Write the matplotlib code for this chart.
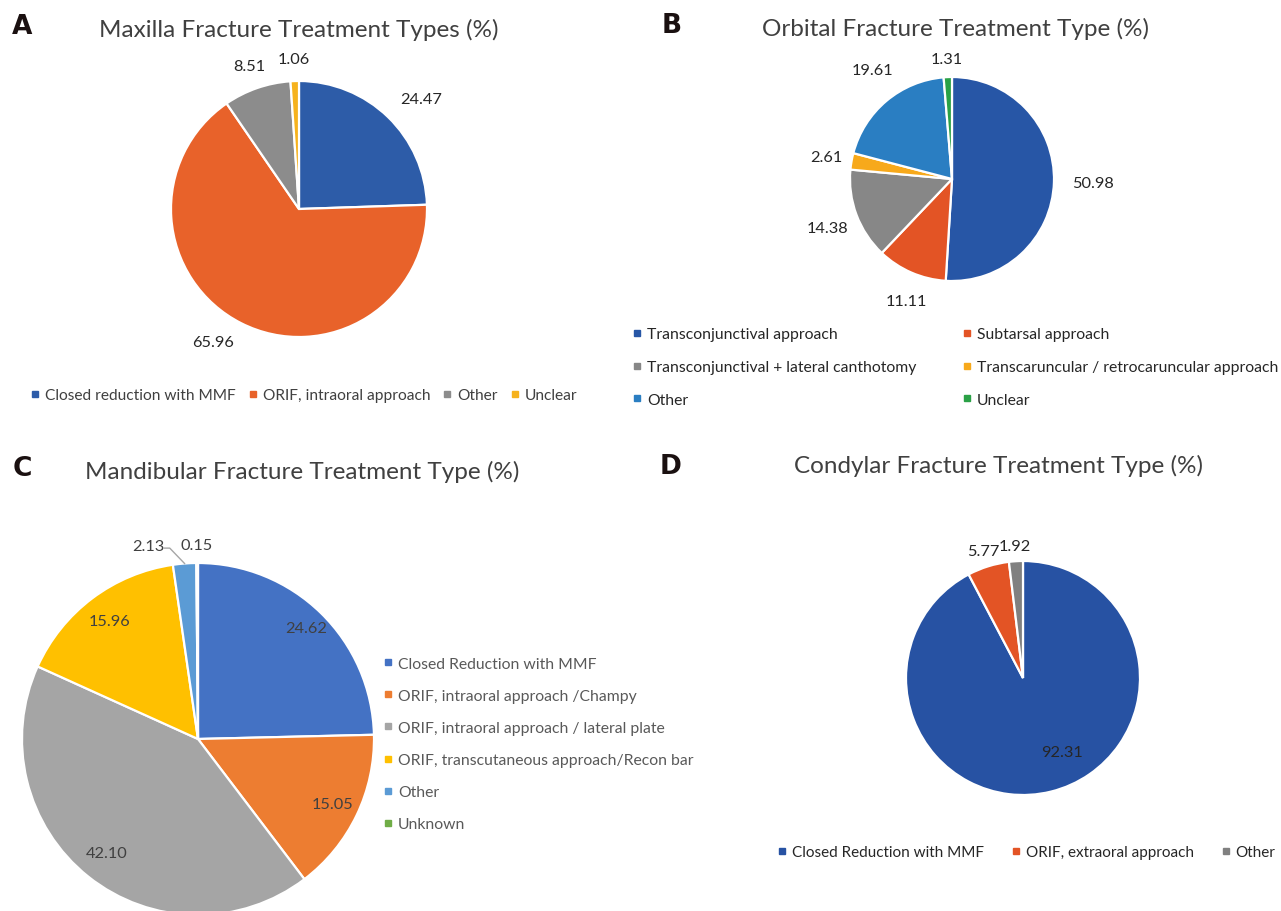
import numpy as np
import matplotlib.pyplot as plt
from matplotlib.lines import Line2D

# ---- data ----
maxilla_labels = ["Closed reduction with MMF", "ORIF, intraoral approach", "Other", "Unclear"]
maxilla_values = [24.47, 65.96, 8.51, 1.06]

orbital_labels = ["Transconjunctival approach", "Subtarsal approach",
                  "Transconjunctival + lateral canthotomy",
                  "Transcaruncular / retrocaruncular approach", "Other", "Unclear"]
orbital_values = [50.98, 11.11, 14.38, 2.61, 19.61, 1.31]

mandible_labels = ["Closed Reduction with MMF", "ORIF, intraoral approach /Champy",
                   "ORIF, intraoral approach / lateral plate",
                   "ORIF, transcutaneous approach/Recon bar", "Other", "Unknown"]
mandible_values = [24.62, 15.05, 42.10, 15.96, 2.13, 0.15]

condyle_labels = ["Closed Reduction with MMF", "ORIF, extraoral approach", "Other"]
condyle_values = [92.31, 5.77, 1.92]

# colours
maxilla_colors = ["#2D5CA8", "#E8622A", "#8C8C8C", "#F6B21D"]
orbital_colors = ["#2756A6", "#E35425", "#878787", "#F7A91B", "#2A7EC2", "#2AA146"]
mandible_colors = ["#4472C4", "#ED7D31", "#A5A5A5", "#FFC000", "#5B9BD5", "#70AD47"]
condyle_colors = ["#2752A3", "#E35425", "#808080"]

plt.rcParams['font.family'] = ['Lato', 'DejaVu Sans']

W, H = 1281, 912
fig = plt.figure(figsize=(W / 100, H / 100), dpi=100)
fig.patch.set_facecolor('white')


def pie_ax(cx, cy, r):
    # axes box placed in pixel units so the pie lands where it should
    ax = fig.add_axes([(cx - r) / W, 1 - (cy + r) / H, 2 * r / W, 2 * r / H])
    return ax


def draw_pie(ax, values, colors):
    wedges, _ = ax.pie(values, colors=colors, startangle=90, counterclock=False,
                       radius=1, wedgeprops=dict(edgecolor='white', linewidth=1.6))
    ax.set_xlim(-1, 1)
    ax.set_ylim(-1, 1)
    ax.set_aspect('equal')
    ax.axis('off')
    return wedges


def pie_labels(ax, wedges, values, dist, nudge, color, size=11.8):
    pos = []
    for w, v, d, n in zip(wedges, values, dist, nudge):
        ang = np.deg2rad((w.theta1 + w.theta2) / 2 + n)
        x, y = d * np.cos(ang), d * np.sin(ang)
        ax.text(x, y, f"{v:.2f}", ha='center', va='center', fontsize=size,
                color=color, clip_on=False)
        pos.append((x, y))
    return pos


def legend(handles_labels, x, y, loc, ncol=1, size=11.3, **kw):
    colors, labels = handles_labels
    handles = [Line2D([], [], marker='s', ls='none', color=c, markersize=5) for c in colors]
    return fig.legend(handles, labels, loc=loc, bbox_to_anchor=(x / W, 1 - y / H),
                      ncol=ncol, frameon=False, fontsize=size, handlelength=0.6,
                      handletextpad=0.35, borderpad=0, borderaxespad=0, **kw)


def title(x, y, text):
    fig.text(x / W, 1 - y / H, text, ha='center', va='center', fontsize=17.5, color='#404040')


def letter(x, y, s):
    fig.text(x / W, 1 - y / H, s, ha='center', va='center', fontsize=19,
             fontweight='bold', family='DejaVu Sans', color='#1a1010')


# ---- A: maxilla ----
letter(22, 27, "A")
title(299, 30, "Maxilla Fracture Treatment Types (%)")
ax = pie_ax(299, 210, 128)
w = draw_pie(ax, maxilla_values, maxilla_colors)
pie_labels(ax, w, maxilla_values, [1.28, 1.24, 1.18, 1.17], [-4, -6, 0, 0], '#262626')
legend((maxilla_colors, maxilla_labels), 30, 396, 'center left', ncol=4, size=11.2,
       columnspacing=0.8, labelcolor='#404040')

# ---- B: orbital ----
letter(672, 26, "B")
title(955, 29, "Orbital Fracture Treatment Type (%)")
ax = pie_ax(952, 180, 102)
w = draw_pie(ax, orbital_values, orbital_colors)
pie_labels(ax, w, orbital_values, [1.38, 1.28, 1.31, 1.25, 1.32, 1.18],
           [0, 3, 1, 0, -4, 0], '#262626')
idx1, idx2 = [0, 2, 4], [1, 3, 5]
legend(([orbital_colors[i] for i in idx1], [orbital_labels[i] for i in idx1]),
       632, 368, 'center left', labelspacing=1.2, labelcolor='#262626')
legend(([orbital_colors[i] for i in idx2], [orbital_labels[i] for i in idx2]),
       962, 368, 'center left', labelspacing=1.2, labelcolor='#262626')

# ---- C: mandible ----
letter(22, 469, "C")
title(302, 472, "Mandibular Fracture Treatment Type (%)")
ax = pie_ax(198, 740, 176)
w = draw_pie(ax, mandible_values, mandible_colors)
pos = pie_labels(ax, w, mandible_values, [0.88, 0.85, 0.83, 0.84, 1.13, 1.10],
                 [0, 0, 0, 0, 10, 0], '#404040')
# leader line for the small "Other" slice
wo = w[4]
a = np.deg2rad((wo.theta1 + wo.theta2) / 2)
lx, ly = pos[4]
ax.plot([np.cos(a), lx + 0.12, lx + 0.09], [np.sin(a), ly - 0.01, ly - 0.01],
        color='#A6A6A6', lw=1, clip_on=False)
legend((mandible_colors, mandible_labels), 383, 745, 'center left',
       labelspacing=1.15, labelcolor='#595959')

# ---- D: condyle ----
letter(671, 467, "D")
title(998, 466, "Condylar Fracture Treatment Type (%)")
ax = pie_ax(1023, 679, 117)
w = draw_pie(ax, condyle_values, condyle_colors)
pie_labels(ax, w, condyle_values, [0.72, 1.14, 1.13], [14, 0, 0], '#262626')
legend((condyle_colors, condyle_labels), 777, 853, 'center left', ncol=3, size=11,
       columnspacing=1.8, labelcolor='#262626')

fig.savefig("out.png", dpi=100)
